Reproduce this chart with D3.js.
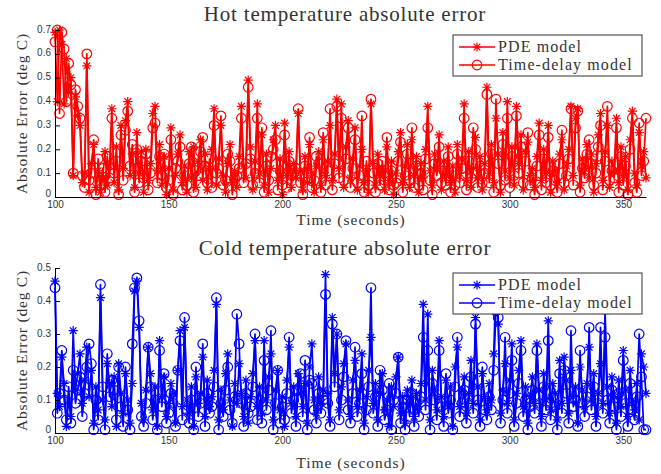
<!DOCTYPE html>
<html>
<head>
<meta charset="utf-8">
<script src="https://cdnjs.cloudflare.com/ajax/libs/d3/7.8.5/d3.min.js"></script>
<style>
  body { margin: 0; background: #fff; }
  svg { display: block; }
  .serif { font-family: "Liberation Serif", "Times New Roman", serif; fill: #333; font-weight: normal; }
  .tick text { font-family: "Liberation Sans", Arial, sans-serif; font-size: 10px; fill: #333; }
</style>
</head>
<body>
<svg id="chart" width="661" height="474"></svg>
<script>
// sample times (seconds), one sample per second
const times = d3.range(100, 361);
const seriesNames = ['PDE model', 'Time-delay model'];
const xTicks = [100, 150, 200, 250, 300, 350];
const hotYTicks = [0, 0.1, 0.2, 0.3, 0.4, 0.5, 0.6, 0.7];
const coldYTicks = [0, 0.1, 0.2, 0.3, 0.4, 0.5];

// hot side, PDE model
const hotPde = [
  0.69, 0.40, 0.70, 0.64, 0.39, 0.58, 0.44, 0.50, 0.09, 0.42,
  0.34, 0.30, 0.06, 0.10, 0.55, 0.02, 0.14, 0.22, 0.04, 0.11,
  0.02, 0.08, 0.19, 0.05, 0.13, 0.37, 0.06, 0.21, 0.03, 0.30,
  0.12, 0.32, 0.40, 0.09, 0.18, 0.04, 0.27, 0.10, 0.19, 0.02,
  0.20, 0.07, 0.14, 0.35, 0.38, 0.11, 0.22, 0.05, 0.17, 0.01,
  0.12, 0.29, 0.03, 0.09, 0.18, 0.26, 0.06, 0.13, 0.02, 0.19,
  0.08, 0.21, 0.04, 0.15, 0.24, 0.07, 0.18, 0.03, 0.12, 0.20,
  0.37, 0.05, 0.16, 0.30, 0.09, 0.02, 0.14, 0.22, 0.06, 0.11,
  0.04, 0.17, 0.38, 0.13, 0.08, 0.49, 0.21, 0.03, 0.15, 0.39,
  0.10, 0.26, 0.05, 0.18, 0.02, 0.12, 0.24, 0.30, 0.07, 0.16,
  0.01, 0.31, 0.09, 0.19, 0.04, 0.14, 0.08, 0.35, 0.11, 0.03,
  0.17, 0.06, 0.22, 0.10, 0.02, 0.13, 0.19, 0.05, 0.24, 0.09,
  0.15, 0.30, 0.07, 0.18, 0.41, 0.12, 0.39, 0.04, 0.21, 0.32,
  0.08, 0.16, 0.29, 0.03, 0.13, 0.20, 0.06, 0.11, 0.02, 0.39,
  0.14, 0.05, 0.18, 0.09, 0.12, 0.03, 0.21, 0.07, 0.15, 0.01,
  0.10, 0.19, 0.27, 0.06, 0.13, 0.22, 0.04, 0.24, 0.09, 0.17,
  0.02, 0.14, 0.08, 0.20, 0.38, 0.11, 0.05, 0.18, 0.12, 0.26,
  0.03, 0.15, 0.09, 0.21, 0.06, 0.13, 0.02, 0.22, 0.10, 0.16,
  0.39, 0.07, 0.19, 0.04, 0.12, 0.25, 0.08, 0.17, 0.03, 0.14,
  0.46, 0.10, 0.22, 0.06, 0.33, 0.18, 0.02, 0.27, 0.11, 0.40,
  0.08, 0.21, 0.05, 0.38, 0.14, 0.26, 0.03, 0.19, 0.23, 0.09,
  0.12, 0.04, 0.17, 0.31, 0.07, 0.20, 0.10, 0.30, 0.02, 0.15,
  0.11, 0.06, 0.18, 0.24, 0.03, 0.13, 0.20, 0.38, 0.09, 0.33,
  0.37, 0.05, 0.16, 0.12, 0.22, 0.08, 0.18, 0.02, 0.14, 0.26,
  0.35, 0.07, 0.19, 0.30, 0.04, 0.15, 0.11, 0.33, 0.06, 0.21,
  0.09, 0.17, 0.03, 0.24, 0.36, 0.10, 0.05, 0.27, 0.13, 0.19,
  0.08
];

// hot side, time-delay model
const hotDelay = [
  0.65, 0.70, 0.35, 0.69, 0.62, 0.40, 0.56, 0.47, 0.10, 0.45,
  0.38, 0.33, 0.09, 0.04, 0.60, 0.07, 0.10, 0.24, 0.01, 0.16,
  0.05, 0.12, 0.02, 0.17, 0.08, 0.33, 0.10, 0.15, 0.01, 0.26,
  0.07, 0.28, 0.36, 0.13, 0.22, 0.02, 0.20, 0.06, 0.15, 0.08,
  0.18, 0.03, 0.10, 0.29, 0.31, 0.06, 0.17, 0.09, 0.18, 0.04,
  0.07, 0.24, 0.01, 0.12, 0.15, 0.21, 0.03, 0.09, 0.05, 0.14,
  0.21, 0.02, 0.11, 0.09, 0.19, 0.25, 0.13, 0.06, 0.16, 0.04,
  0.30, 0.10, 0.12, 0.34, 0.05, 0.07, 0.18, 0.15, 0.01, 0.08,
  0.09, 0.12, 0.33, 0.06, 0.14, 0.46, 0.16, 0.05, 0.10, 0.33,
  0.06, 0.29, 0.02, 0.13, 0.07, 0.17, 0.20, 0.24, 0.03, 0.11,
  0.05, 0.26, 0.04, 0.15, 0.09, 0.10, 0.12, 0.37, 0.06, 0.01,
  0.13, 0.10, 0.25, 0.04, 0.07, 0.17, 0.14, 0.02, 0.27, 0.05,
  0.11, 0.37, 0.03, 0.14, 0.38, 0.08, 0.33, 0.07, 0.16, 0.29,
  0.04, 0.12, 0.24, 0.06, 0.09, 0.34, 0.02, 0.15, 0.05, 0.41,
  0.10, 0.02, 0.14, 0.05, 0.15, 0.07, 0.25, 0.03, 0.11, 0.05,
  0.06, 0.15, 0.23, 0.02, 0.09, 0.18, 0.07, 0.29, 0.04, 0.13,
  0.05, 0.10, 0.03, 0.16, 0.29, 0.07, 0.01, 0.14, 0.09, 0.21,
  0.06, 0.11, 0.05, 0.17, 0.02, 0.09, 0.05, 0.18, 0.06, 0.12,
  0.33, 0.03, 0.15, 0.08, 0.29, 0.20, 0.04, 0.13, 0.06, 0.10,
  0.43, 0.06, 0.18, 0.02, 0.41, 0.14, 0.05, 0.22, 0.07, 0.33,
  0.04, 0.17, 0.09, 0.34, 0.10, 0.21, 0.06, 0.15, 0.27, 0.05,
  0.08, 0.01, 0.13, 0.26, 0.03, 0.16, 0.06, 0.25, 0.05, 0.11,
  0.07, 0.02, 0.14, 0.28, 0.06, 0.09, 0.16, 0.37, 0.05, 0.29,
  0.36, 0.02, 0.12, 0.08, 0.18, 0.24, 0.14, 0.05, 0.10, 0.21,
  0.30, 0.03, 0.15, 0.38, 0.07, 0.11, 0.08, 0.29, 0.02, 0.17,
  0.05, 0.13, 0.01, 0.20, 0.33, 0.06, 0.02, 0.31, 0.09, 0.15,
  0.33
];

// cold side, PDE model
const coldPde = [
  0.46, 0.12, 0.08, 0.23, 0.15, 0.02, 0.10, 0.05, 0.31, 0.13,
  0.18, 0.24, 0.09, 0.16, 0.26, 0.11, 0.19, 0.03, 0.14, 0.07,
  0.41, 0.10, 0.04, 0.21, 0.15, 0.08, 0.17, 0.02, 0.21, 0.12,
  0.06, 0.18, 0.10, 0.03, 0.15, 0.43, 0.46, 0.32, 0.09, 0.04,
  0.13, 0.26, 0.18, 0.07, 0.14, 0.02, 0.28, 0.11, 0.17, 0.05,
  0.09, 0.15, 0.12, 0.03, 0.19, 0.31, 0.08, 0.32, 0.10, 0.06,
  0.14, 0.02, 0.17, 0.09, 0.12, 0.23, 0.05, 0.16, 0.08, 0.11,
  0.19, 0.39, 0.04, 0.13, 0.07, 0.18, 0.24, 0.10, 0.02, 0.15,
  0.09, 0.21, 0.12, 0.05, 0.16, 0.03, 0.11, 0.18, 0.28, 0.08,
  0.14, 0.06, 0.28, 0.10, 0.17, 0.24, 0.04, 0.13, 0.19, 0.07,
  0.11, 0.02, 0.16, 0.26, 0.09, 0.14, 0.05, 0.18, 0.12, 0.08,
  0.15, 0.03, 0.20, 0.27, 0.10, 0.06, 0.17, 0.09, 0.13, 0.48,
  0.12, 0.04, 0.35, 0.18, 0.30, 0.07, 0.14, 0.21, 0.27, 0.10,
  0.05, 0.16, 0.22, 0.08, 0.13, 0.24, 0.03, 0.11, 0.19, 0.29,
  0.09, 0.15, 0.04, 0.12, 0.18, 0.07, 0.10, 0.02, 0.14, 0.08,
  0.17, 0.23, 0.06, 0.11, 0.03, 0.13, 0.09, 0.16, 0.05, 0.12,
  0.08, 0.15, 0.39, 0.10, 0.36, 0.04, 0.19, 0.13, 0.07, 0.28,
  0.11, 0.05, 0.16, 0.09, 0.14, 0.02, 0.20, 0.26, 0.08, 0.13,
  0.17, 0.06, 0.12, 0.22, 0.09, 0.35, 0.14, 0.04, 0.18, 0.11,
  0.07, 0.15, 0.10, 0.24, 0.45, 0.33, 0.06, 0.13, 0.21, 0.09,
  0.16, 0.27, 0.04, 0.12, 0.19, 0.28, 0.08, 0.14, 0.03, 0.11,
  0.17, 0.09, 0.27, 0.13, 0.05, 0.18, 0.10, 0.34, 0.07, 0.15,
  0.12, 0.04, 0.22, 0.09, 0.23, 0.16, 0.06, 0.19, 0.11, 0.14,
  0.03, 0.20, 0.13, 0.08, 0.15, 0.26, 0.10, 0.18, 0.05, 0.12,
  0.21, 0.09, 0.37, 0.14, 0.06, 0.17, 0.11, 0.03, 0.16, 0.08,
  0.25, 0.13, 0.05, 0.19, 0.10, 0.07, 0.15, 0.04, 0.24, 0.20,
  0.12
];

// cold side, time-delay model
const coldDelay = [
  0.44, 0.06, 0.12, 0.25, 0.10, 0.04, 0.14, 0.03, 0.19, 0.09,
  0.13, 0.17, 0.05, 0.12, 0.20, 0.27, 0.21, 0.01, 0.10, 0.04,
  0.45, 0.14, 0.01, 0.24, 0.11, 0.16, 0.13, 0.04, 0.20, 0.08,
  0.02, 0.20, 0.07, 0.01, 0.27, 0.44, 0.47, 0.34, 0.05, 0.02,
  0.09, 0.26, 0.14, 0.04, 0.10, 0.01, 0.25, 0.08, 0.18, 0.03,
  0.06, 0.12, 0.09, 0.02, 0.19, 0.28, 0.04, 0.35, 0.07, 0.03,
  0.10, 0.01, 0.20, 0.05, 0.09, 0.27, 0.02, 0.12, 0.06, 0.08,
  0.14, 0.41, 0.01, 0.09, 0.05, 0.13, 0.20, 0.07, 0.03, 0.11,
  0.36, 0.27, 0.09, 0.02, 0.12, 0.06, 0.08, 0.14, 0.30, 0.04,
  0.10, 0.03, 0.22, 0.07, 0.13, 0.31, 0.01, 0.09, 0.19, 0.03,
  0.08, 0.04, 0.12, 0.29, 0.06, 0.10, 0.02, 0.13, 0.18, 0.05,
  0.22, 0.01, 0.16, 0.15, 0.07, 0.03, 0.12, 0.06, 0.10, 0.42,
  0.09, 0.02, 0.33, 0.14, 0.30, 0.04, 0.10, 0.17, 0.28, 0.07,
  0.03, 0.12, 0.26, 0.05, 0.09, 0.18, 0.01, 0.07, 0.14, 0.44,
  0.06, 0.11, 0.02, 0.19, 0.13, 0.04, 0.07, 0.15, 0.01, 0.10,
  0.12, 0.23, 0.03, 0.08, 0.01, 0.10, 0.05, 0.12, 0.02, 0.09,
  0.05, 0.11, 0.29, 0.07, 0.25, 0.01, 0.15, 0.10, 0.04, 0.25,
  0.08, 0.02, 0.18, 0.06, 0.10, 0.01, 0.14, 0.29, 0.05, 0.09,
  0.13, 0.03, 0.09, 0.17, 0.06, 0.33, 0.10, 0.02, 0.20, 0.07,
  0.04, 0.11, 0.07, 0.19, 0.37, 0.35, 0.03, 0.10, 0.29, 0.06,
  0.12, 0.22, 0.02, 0.09, 0.15, 0.25, 0.05, 0.10, 0.01, 0.08,
  0.13, 0.06, 0.25, 0.09, 0.02, 0.14, 0.07, 0.28, 0.04, 0.11,
  0.08, 0.01, 0.18, 0.06, 0.19, 0.12, 0.03, 0.31, 0.08, 0.10,
  0.02, 0.25, 0.09, 0.05, 0.11, 0.32, 0.07, 0.14, 0.02, 0.09,
  0.32, 0.06, 0.29, 0.10, 0.03, 0.13, 0.08, 0.01, 0.12, 0.05,
  0.22, 0.09, 0.02, 0.15, 0.07, 0.04, 0.11, 0.30, 0.17, 0.01,
  0.01
];

const svg = d3.select('#chart');

const panels = [
  { title: 'Hot temperature absolute error', color: '#ff0000', yMax: 0.7, yTicks: hotYTicks,
    top: 30, bottom: 197, titleY: 21, xLabelY: 225, legendTop: 35, series: [hotPde, hotDelay] },
  { title: 'Cold temperature absolute error', color: '#0000ff', yMax: 0.5, yTicks: coldYTicks,
    top: 268, bottom: 433, titleY: 255, xLabelY: 468, legendTop: 273, series: [coldPde, coldDelay] }
];

const left = 55, right = 646;
const x = d3.scaleLinear().domain([100, 360]).range([left, right]);

// matlab style '*' marker
function starPath(r) {
  const d = r * 0.72;
  return `M${-r},0L${r},0M0,${-r}L0,${r}M${-d},${-d}L${d},${d}M${-d},${d}L${d},${-d}`;
}

function drawMarker(g, kind, color) {
  if (kind === 0) {
    g.append('path').attr('d', starPath(4.6))
      .attr('stroke', color).attr('stroke-width', 1.2).attr('fill', 'none');
  } else {
    g.append('circle').attr('r', 4.8)
      .attr('stroke', color).attr('stroke-width', 1.2).attr('fill', 'none');
  }
}

panels.forEach(p => {
  const y = d3.scaleLinear().domain([0, p.yMax]).range([p.bottom, p.top]);
  const g = svg.append('g');

  // axes, ticks pointing inwards
  const xAxis = d3.axisBottom(x).tickValues(xTicks).tickSizeInner(-5).tickSizeOuter(0).tickPadding(4);
  const yAxis = d3.axisLeft(y).tickValues(p.yTicks).tickSizeInner(-5).tickSizeOuter(0).tickPadding(4)
    .tickFormat(d => d === 0 ? '0' : d3.format('.1f')(d));

  const line = d3.line().x((d, i) => x(times[i])).y(d => y(d));

  p.series.forEach((vals, k) => {
    const sg = g.append('g');
    sg.append('path').datum(vals).attr('d', line)
      .attr('fill', 'none').attr('stroke', p.color).attr('stroke-width', 1.7)
      .attr('stroke-linejoin', 'round');
    vals.forEach((v, i) => {
      const m = sg.append('g').attr('transform', `translate(${x(times[i])},${y(v)})`);
      drawMarker(m, k, p.color);
    });
  });

  g.append('g').attr('transform', `translate(0,${p.bottom})`).call(xAxis)
    .call(a => a.select('.domain').attr('stroke', '#000'))
    .call(a => a.selectAll('.tick line').attr('stroke', '#000'));
  g.append('g').attr('transform', `translate(${left},0)`).call(yAxis)
    .call(a => a.select('.domain').attr('stroke', '#000'))
    .call(a => a.selectAll('.tick line').attr('stroke', '#000'))
    .call(a => a.selectAll('.tick text').attr('dy', d => d === 0 ? '-0.05em' : '0.2em'));

  // title and axis labels
  g.append('text').attr('class', 'serif').attr('x', 345).attr('y', p.titleY)
    .attr('text-anchor', 'middle').attr('font-size', 21).attr('letter-spacing', 0.8).text(p.title);
  g.append('text').attr('class', 'serif').attr('x', 351).attr('y', p.xLabelY)
    .attr('text-anchor', 'middle').attr('font-size', 15.5).attr('letter-spacing', 1).text('Time (seconds)');
  g.append('text').attr('class', 'serif')
    .attr('transform', `translate(27,${(p.top + p.bottom) / 2}) rotate(-90)`)
    .attr('text-anchor', 'middle').attr('font-size', 15.5).attr('letter-spacing', 0.8)
    .text('Absolute Error (deg C)');

  // legend
  const lg = g.append('g').attr('transform', `translate(453,${p.legendTop})`);
  lg.append('rect').attr('width', 189).attr('height', 41)
    .attr('fill', '#fff').attr('stroke', '#333').attr('stroke-width', 1);
  seriesNames.forEach((name, k) => {
    const ly = 12 + k * 18;
    lg.append('line').attr('x1', 6).attr('x2', 42).attr('y1', ly).attr('y2', ly)
      .attr('stroke', p.color).attr('stroke-width', 1.5);
    drawMarker(lg.append('g').attr('transform', `translate(24,${ly})`), k, p.color);
    lg.append('text').attr('class', 'serif').attr('x', 45).attr('y', ly + 5)
      .attr('font-size', 16).attr('letter-spacing', 1.1).text(name);
  });
});
</script>
</body>
</html>
